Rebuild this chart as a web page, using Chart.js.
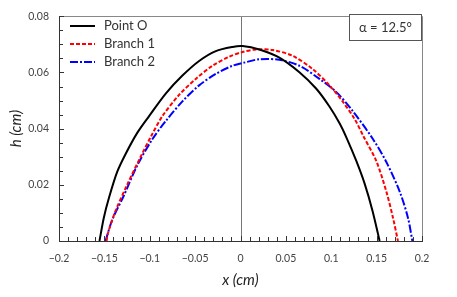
<!DOCTYPE html>
<html>
<head>
<meta charset="utf-8">
<script src="https://cdn.jsdelivr.net/npm/chart.js@4"></script>
<style>
  html, body { margin: 0; padding: 0; background: #fff; }
  #wrap { width: 457px; height: 297px; }
</style>
</head>
<body>
<div id="wrap"><canvas id="myChart" width="457" height="297"></canvas></div>
<script>
// values
const seriesNames = ['Point O', 'Branch 1', 'Branch 2'];

const pointO_x = [-0.1554, -0.1506, -0.145, -0.1359, -0.1266, -0.1138, -0.1009, -0.0824, -0.064, -0.0456, -0.0272, -0.0088, 0.0022, 0.0207, 0.0428, 0.0649, 0.0833, 0.098, 0.109, 0.1165, 0.1275, 0.1367, 0.1455, 0.1533];
const pointO_h = [0, 0.0083, 0.0153, 0.0246, 0.0310, 0.0385, 0.0444, 0.0525, 0.0589, 0.0641, 0.0676, 0.0691, 0.0694, 0.0682, 0.0653, 0.0601, 0.0543, 0.0479, 0.0420, 0.0370, 0.0286, 0.0205, 0.0107, 0];

const branch1_x = [-0.1476, -0.1462, -0.1377, -0.1249, -0.110, -0.0983, -0.0862, -0.0677, -0.0493, -0.0309, -0.0125, 0.0022, 0.017, 0.0354, 0.0575, 0.0796, 0.098, 0.1127, 0.1256, 0.1356, 0.1496, 0.1607, 0.168, 0.1735];
const branch1_h = [0, 0.0026, 0.0107, 0.020, 0.030, 0.0374, 0.0444, 0.052, 0.0577, 0.0624, 0.0656, 0.0673, 0.0682, 0.068, 0.0659, 0.0612, 0.0554, 0.0496, 0.0435, 0.0372, 0.0285, 0.0176, 0.0083, 0];

const branch2_x = [-0.1487, -0.1414, -0.1285, -0.1138, -0.0972, -0.0824, -0.064, -0.0456, -0.0272, -0.0088, 0.004, 0.0207, 0.0428, 0.0649, 0.087, 0.1054, 0.1238, 0.1459, 0.1607, 0.1754, 0.1845, 0.1894];
const branch2_h = [0, 0.0075, 0.0162, 0.0269, 0.0362, 0.0427, 0.0497, 0.0554, 0.0595, 0.0624, 0.0635, 0.0647, 0.0645, 0.0624, 0.0577, 0.0531, 0.0462, 0.0363, 0.0281, 0.0176, 0.0083, 0];

const xTicks = [-0.2, -0.15, -0.1, -0.05, 0, 0.05, 0.1, 0.15, 0.2];
const yTicks = [0, 0.02, 0.04, 0.06, 0.08];
const angleNote = 'α = 12.5°';

const FONT = 'Lato, "DejaVu Sans", sans-serif';

function pts(xs, hs) {
  return xs.map((x, i) => ({ x: x, y: hs[i] }));
}

function fmt(v) {
  if (Math.abs(v) < 1e-9) return '0';
  let s = String(Math.round(v * 1000) / 1000);
  return s.replace('-', '\u2212');
}

// frame, zero line, inward ticks, legend and note box
const decor = {
  id: 'decor',
  beforeDatasetsDraw(chart) {
    const { ctx, chartArea: a, scales } = chart;
    ctx.save();
    ctx.strokeStyle = '#777';
    ctx.lineWidth = 1;
    const zx = Math.round(scales.x.getPixelForValue(0)) + 0.5;
    ctx.beginPath();
    ctx.moveTo(zx, a.top);
    ctx.lineTo(zx, a.bottom);
    ctx.stroke();
    ctx.restore();
  },
  afterDatasetsDraw(chart) {
    const { ctx, chartArea: a, scales } = chart;
    const sx = scales.x, sy = scales.y;
    ctx.save();
    // top and right frame
    ctx.strokeStyle = '#888';
    ctx.lineWidth = 1;
    ctx.beginPath();
    ctx.moveTo(Math.round(a.left) + 0.5, Math.round(a.top) + 0.5);
    ctx.lineTo(Math.round(a.right) + 0.5, Math.round(a.top) + 0.5);
    ctx.lineTo(Math.round(a.right) + 0.5, Math.round(a.bottom) + 0.5);
    ctx.stroke();
    // left and bottom axes
    ctx.strokeStyle = '#333';
    ctx.beginPath();
    ctx.moveTo(Math.round(a.left) + 0.5, Math.round(a.top));
    ctx.lineTo(Math.round(a.left) + 0.5, Math.round(a.bottom) + 0.5);
    ctx.lineTo(Math.round(a.right) + 1, Math.round(a.bottom) + 0.5);
    ctx.stroke();
    // inward ticks
    ctx.beginPath();
    for (let i = 0; i <= 40; i++) {
      const px = Math.round(sx.getPixelForValue(-0.2 + i * 0.01)) + 0.5;
      const len = (i % 5 === 0) ? 5 : 4;
      ctx.moveTo(px, a.bottom);
      ctx.lineTo(px, a.bottom - len);
    }
    for (let i = 0; i <= 16; i++) {
      const py = Math.round(sy.getPixelForValue(i * 0.005)) + 0.5;
      const len = (i % 4 === 0) ? 5 : 4;
      ctx.moveTo(a.left, py);
      ctx.lineTo(a.left + len, py);
    }
    ctx.stroke();

    // legend
    ctx.font = '13px ' + FONT;
    ctx.textBaseline = 'middle';
    chart.data.datasets.forEach((ds, i) => {
      const y = 26 + i * 18;
      ctx.strokeStyle = ds.borderColor;
      ctx.lineWidth = ds.borderWidth;
      ctx.setLineDash(ds.borderDash || []);
      ctx.beginPath();
      ctx.moveTo(70, y);
      ctx.lineTo(95, y);
      ctx.stroke();
      ctx.setLineDash([]);
      ctx.fillStyle = '#333';
      ctx.textAlign = 'left';
      ctx.fillText(ds.label, 104, y);
    });

    // note box
    ctx.lineWidth = 1;
    ctx.strokeStyle = '#555';
    ctx.fillStyle = '#fff';
    ctx.fillRect(349.5, 14.5, 72, 26);
    ctx.strokeRect(349.5, 14.5, 72, 26);
    ctx.fillStyle = '#333';
    ctx.textAlign = 'center';
    ctx.fillText(angleNote, 385.5, 28);
    ctx.restore();
  }
};

const ctx = document.getElementById('myChart');
new Chart(ctx, {
  type: 'scatter',
  data: {
    datasets: [
      {
        label: seriesNames[0],
        data: pts(pointO_x, pointO_h),
        showLine: true,
        borderColor: '#000',
        borderWidth: 2,
        pointRadius: 0,
        tension: 0.3
      },
      {
        label: seriesNames[1],
        data: pts(branch1_x, branch1_h),
        showLine: true,
        borderColor: '#ff0000',
        borderWidth: 2,
        borderDash: [4, 2],
        pointRadius: 0,
        tension: 0.3
      },
      {
        label: seriesNames[2],
        data: pts(branch2_x, branch2_h),
        showLine: true,
        borderColor: '#0000ff',
        borderWidth: 2,
        borderDash: [8, 2, 2, 2],
        pointRadius: 0,
        tension: 0.3
      }
    ]
  },
  options: {
    responsive: false,
    animation: false,
    layout: { padding: { top: 11, right: 35, left: 0, bottom: 0 } },
    plugins: { legend: { display: false }, tooltip: { enabled: false } },
    scales: {
      x: {
        type: 'linear',
        min: -0.2,
        max: 0.2,
        afterBuildTicks(scale) { scale.ticks = xTicks.map(v => ({ value: v })); },
        afterFit(scale) { scale.height = 56; },
        grid: { display: false, drawTicks: false },
        border: { display: false },
        ticks: {
          padding: 11,
          color: '#444',
          font: { family: FONT, size: 10.5 },
          maxRotation: 0,
          autoSkip: false,
          callback: v => fmt(v)
        },
        title: {
          display: true,
          text: 'x (cm)',
          color: '#222',
          font: { family: FONT, size: 15, style: 'italic' },
          padding: { top: 0, bottom: 8 }
        }
      },
      y: {
        type: 'linear',
        min: 0,
        max: 0.08,
        afterBuildTicks(scale) { scale.ticks = yTicks.map(v => ({ value: v })); },
        afterFit(scale) { scale.width = 59; },
        grid: { display: false, drawTicks: false },
        border: { display: false },
        ticks: {
          padding: 10,
          color: '#444',
          font: { family: FONT, size: 10.5 },
          autoSkip: false,
          callback: v => fmt(v)
        },
        title: {
          display: true,
          text: 'h (cm)',
          color: '#222',
          font: { family: FONT, size: 15, style: 'italic' },
          padding: { top: 7, bottom: 0 }
        }
      }
    }
  },
  plugins: [decor]
});
</script>
</body>
</html>
